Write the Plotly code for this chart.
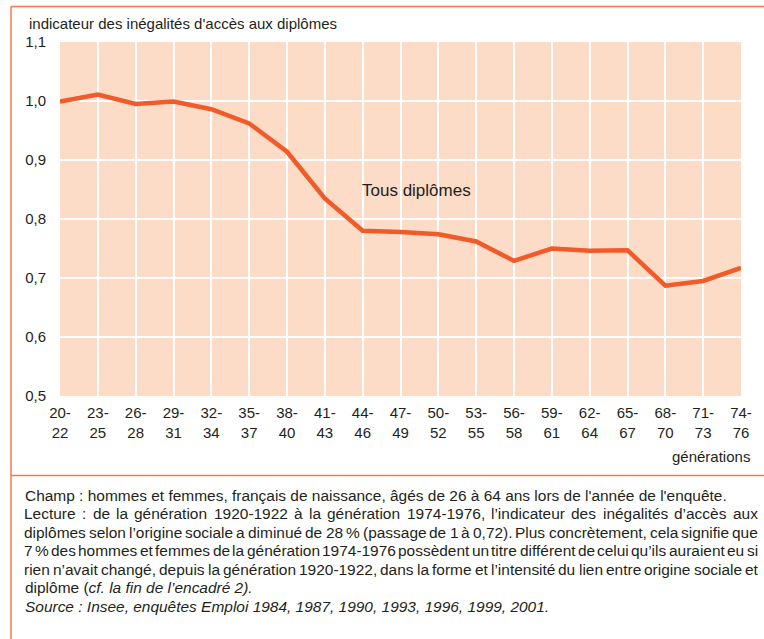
import plotly.graph_objects as go

# generations (birth years) and indicator values
generations = ["20-22", "23-25", "26-28", "29-31", "32-34", "35-37", "38-40",
               "41-43", "44-46", "47-49", "50-52", "53-55", "56-58", "59-61",
               "62-64", "65-67", "68-70", "71-73", "74-76"]
indicateur = [0.999, 1.011, 0.995, 0.999, 0.986, 0.962, 0.914, 0.835, 0.780,
              0.778, 0.774, 0.762, 0.729, 0.750, 0.746, 0.747, 0.687, 0.695, 0.717]
tick_labels = [g.replace("-", "-<br>") for g in generations]

# notes under the chart: (text, justified?)
notes = [
    ("Champ : hommes et femmes, français de naissance, âgés de 26 à 64 ans lors de l'année de l'enquête.", False),
    ("Lecture : de la génération 1920-1922 à la génération 1974-1976, l’indicateur des inégalités d’accès aux", True),
    ("diplômes selon l’origine sociale a diminué de 28 % (passage de 1 à 0,72). Plus concrètement, cela signifie que", True),
    ("7 % des hommes et femmes de la génération 1974-1976 possèdent un titre différent de celui qu’ils auraient eu si", True),
    ("rien n’avait changé, depuis la génération 1920-1922, dans la forme et l’intensité du lien entre origine sociale et", True),
    ("diplôme (<i>cf. la fin de l’encadré 2).</i>", False),
    ("<i>Source : Insee, enquêtes Emploi 1984, 1987, 1990, 1993, 1996, 1999, 2001.</i>", False),
]

W, H = 764, 639
L, R, T, B = 60, 23, 42, 243
pw, ph = W - L - R, H - T - B

def fx(px):
    return (px - L) / pw

def fy(py):
    return (H - B - py) / ph

# Arial / Liberation Sans advance widths (1/1000 em), used to justify text
AW = {" ": 278, "'": 191, "’": 222, "(": 333, ")": 333, ",": 278, "-": 333,
      ".": 278, ":": 278, "%": 889, "I": 278, "C": 722, "E": 667, "L": 556,
      "P": 667, "S": 667, "f": 278, "i": 222, "j": 222, "l": 222, "t": 278,
      "r": 333, "m": 833, "w": 722, "c": 500, "k": 500, "s": 500, "v": 500,
      "x": 500, "y": 500, "z": 500, "ç": 500}

def em(s):
    return sum(AW.get(ch, 556) for ch in s) / 1000

ORANGE = "#F15A29"
FRAME = "#F47A4B"
TXT = "#231F20"
FONT = "Liberation Sans, Arial, sans-serif"

TX0, TX1 = 23, 757
NOTE_SIZE = 702 / em(notes[0][0])

fig = go.Figure()
fig.add_trace(go.Scatter(x=generations, y=indicateur, mode="lines",
                         line=dict(color=ORANGE, width=4.5), hoverinfo="skip"))

fig.update_xaxes(type="category", range=[0, len(generations) - 1],
                 tickvals=generations, ticktext=tick_labels,
                 showgrid=True, gridcolor="white", gridwidth=1.5,
                 zeroline=False, showline=False, ticks="",
                 tickfont=dict(size=15, color=TXT), ticklabelstandoff=6)
fig.update_yaxes(range=[0.5, 1.1], dtick=0.1, tickformat=".1f",
                 showgrid=True, gridcolor="white", gridwidth=1.5,
                 zeroline=False, showline=False, ticks="",
                 tickfont=dict(size=15, color=TXT), ticklabelstandoff=13)

ann = [
    dict(x=fx(27), y=fy(23), text="indicateur des inégalités d'accès aux diplômes",
         xanchor="left", yanchor="middle", font=dict(size=15, color=TXT)),
    dict(x=fx(752), y=fy(457), text="générations",
         xanchor="right", yanchor="middle", font=dict(size=15, color=TXT)),
    dict(x=generations[8], y=0.848, xref="x", yref="y", text="Tous diplômes",
         xanchor="left", yanchor="middle", xshift=-3, font=dict(size=17, color=TXT)),
]
for i, (line, justify) in enumerate(notes):
    ypx = 495 + 18.5 * i
    if not justify:
        ann.append(dict(x=fx(TX0), y=fy(ypx), text=line, xanchor="left",
                        yanchor="middle", font=dict(size=NOTE_SIZE, color=TXT)))
        continue
    words = line.split(" ")
    widths = [em(w) * NOTE_SIZE for w in words]
    gap = (TX1 - TX0 - sum(widths)) / (len(words) - 1)
    xpos = TX0
    for w, wd in zip(words, widths):
        ann.append(dict(x=fx(xpos), y=fy(ypx), text=w, xanchor="left",
                        yanchor="middle", borderpad=0,
                        font=dict(size=NOTE_SIZE, color=TXT)))
        xpos += wd + gap
for a in ann:
    a.setdefault("xref", "paper")
    a.setdefault("yref", "paper")
    a["showarrow"] = False

shapes = [
    dict(type="line", x0=fx(11), x1=fx(W), y0=fy(6.5), y1=fy(6.5)),
    dict(type="line", x0=fx(11), x1=fx(11), y0=fy(6.5), y1=fy(H)),
    dict(type="line", x0=fx(11), x1=fx(W), y0=fy(475.5), y1=fy(475.5)),
]
for s in shapes:
    s.update(xref="paper", yref="paper", line=dict(color=FRAME, width=1.5))

fig.update_layout(
    width=W, height=H, margin=dict(l=L, r=R, t=T, b=B),
    paper_bgcolor="white", plot_bgcolor="#FCDBC7",
    separators=", ", showlegend=False,
    font=dict(family=FONT, color=TXT),
    annotations=ann, shapes=shapes,
)

fig.write_html("out.html", config={"displayModeBar": False},
               post_script="document.body.style.margin='0';")
